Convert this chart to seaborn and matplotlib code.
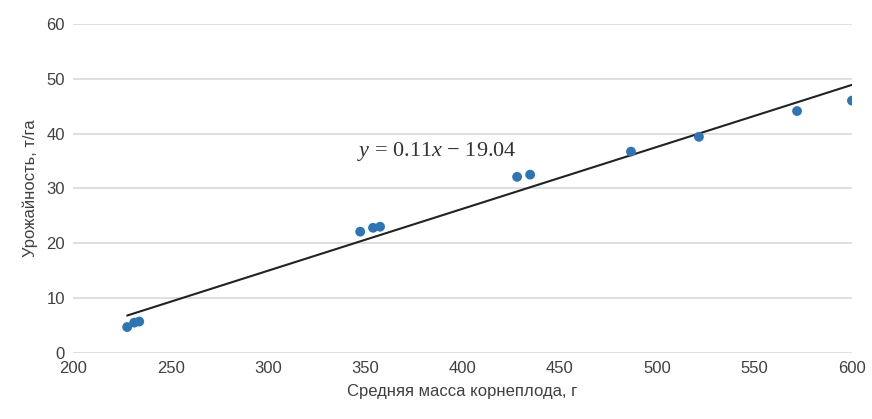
import numpy as np
import pandas as pd
import seaborn as sns
import matplotlib.pyplot as plt

# Data
mass = [227.7, 231.3, 233.9, 347.4, 354.0, 357.6, 428.0, 434.7, 486.5, 521.4, 571.8, 600.0]
yield_t = [4.7, 5.5, 5.7, 22.1, 22.8, 23.0, 32.1, 32.5, 36.7, 39.4, 44.1, 46.0]
x_ticks = [200, 250, 300, 350, 400, 450, 500, 550, 600]
y_ticks = [0, 10, 20, 30, 40, 50, 60]

df = pd.DataFrame({"mass": mass, "yield": yield_t})

sns.set_style("white")
plt.rcParams["font.family"] = ["Liberation Sans", "DejaVu Sans"]
plt.rcParams["mathtext.fontset"] = "custom"
plt.rcParams["mathtext.it"] = "Liberation Serif:italic"
plt.rcParams["mathtext.rm"] = "Liberation Serif"

fig, ax = plt.subplots(figsize=(8.72, 4.19), dpi=100)
fig.subplots_adjust(left=0.084, right=0.977, top=0.943, bottom=0.158)

sns.regplot(data=df, x="mass", y="yield", ci=None, ax=ax,
            scatter_kws={"s": 50, "color": "#2E75B6", "alpha": 1,
                         "edgecolor": "none", "zorder": 3},
            line_kws={"color": "#222222", "lw": 1.5, "zorder": 2})

ax.set_xlim(200, 600)
ax.set_ylim(0, 60)
ax.set_xticks(x_ticks)
ax.set_yticks(y_ticks)
ax.yaxis.grid(True, color="#d9d9d9", lw=1.2)
ax.set_axisbelow(True)
for s in ax.spines.values():
    s.set_visible(False)
ax.tick_params(axis="both", length=0, labelsize=12, labelcolor="#404040", pad=6)

ax.set_xlabel("Средняя масса корнеплода, г", fontsize=12, color="#404040", labelpad=6)
ax.set_ylabel("Урожайность, т/га", fontsize=12, color="#404040", labelpad=6)

ax.text(387, 36.7, r"$y$ = 0.11$x$ − 19.04", fontsize=16, color="#333333",
        family="Liberation Serif", ha="center", va="center", stretch="condensed")

plt.savefig("out.png", dpi=100)
